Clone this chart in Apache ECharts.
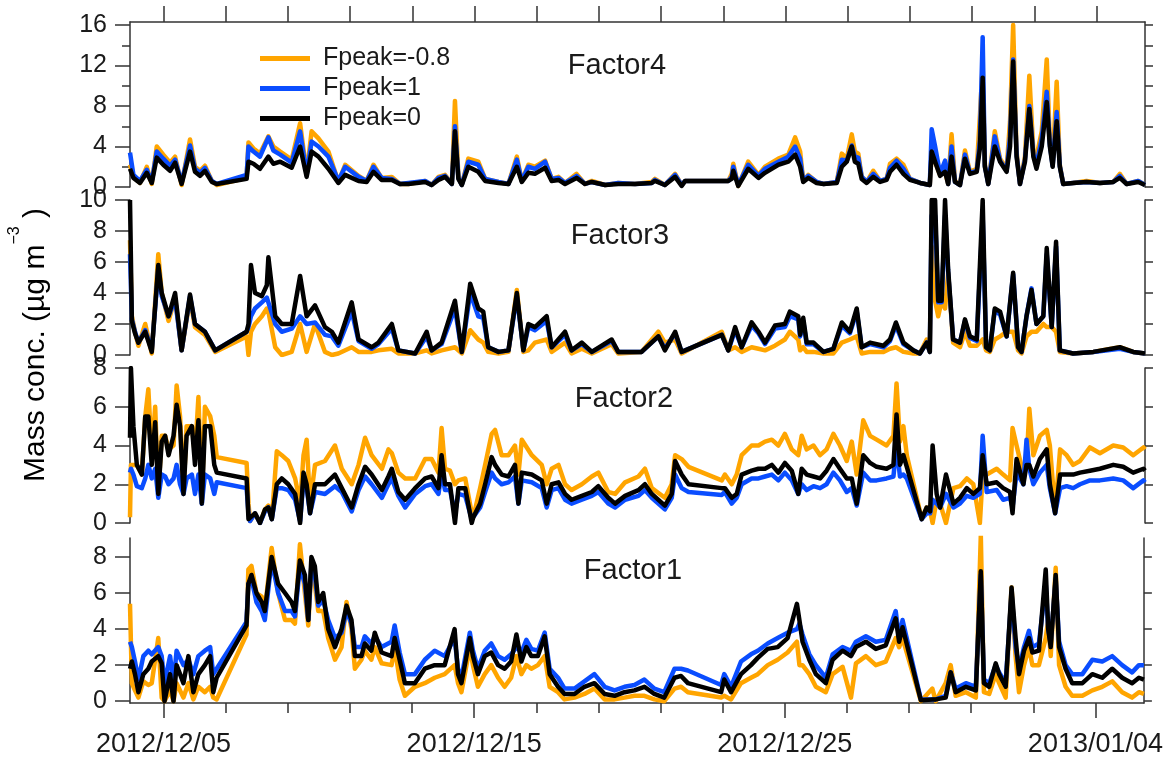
<!DOCTYPE html>
<html>
<head>
<meta charset="utf-8">
<title>Factor time series</title>
<script src="https://cdn.jsdelivr.net/npm/echarts@6/dist/echarts.min.js"></script>
<style>
  html, body { margin: 0; padding: 0; background: #fff; }
  #chart { width: 1166px; height: 763px; }
</style>
</head>
<body>
<div id="chart"></div>
<script>
// time is in days since 2012/12/01 00:00
const dayTicks = [4, 6, 8, 10, 12, 14, 16, 18, 20, 22, 24, 26, 28, 30, 32, 34];
const dateTicks = [4, 14, 24, 34];
const dateLabels = ['2012/12/05', '2012/12/15', '2012/12/25', '2013/01/04'];
const seriesNames = ['Fpeak=-0.8', 'Fpeak=1', 'Fpeak=0'];

// Factor4
const f4Time = [
  2.92, 3.03, 3.24, 3.46, 3.62, 3.78, 3.99, 4.21, 4.37, 4.58,
  4.85, 5.01, 5.17, 5.33, 5.55, 5.71, 6.67, 6.73, 6.89, 7.10,
  7.37, 7.53, 7.75, 8.12, 8.39, 8.60, 8.76, 8.98, 9.30, 9.62,
  9.84, 10.27, 10.53, 10.75, 11.01, 11.34, 11.60, 11.87, 12.41, 12.62,
  12.84, 13.05, 13.27, 13.37, 13.48, 13.59, 13.80, 14.12, 14.34, 14.77,
  15.09, 15.36, 15.52, 15.73, 15.94, 16.27, 16.48, 16.70, 16.91, 17.28,
  17.55, 17.77, 18.20, 18.62, 19.16, 19.70, 19.80, 20.12, 20.45, 20.66,
  20.77, 22.16, 22.27, 22.32, 22.48, 22.80, 23.13, 23.34, 23.77, 24.09,
  24.31, 24.47, 24.57, 24.73, 25.00, 25.22, 25.65, 25.81, 25.97, 26.13,
  26.23, 26.34, 26.45, 26.61, 26.82, 27.04, 27.25, 27.36, 27.57, 27.79,
  28.00, 28.33, 28.64, 28.70, 28.81, 28.97, 29.13, 29.23, 29.34, 29.45,
  29.61, 29.77, 29.93, 30.15, 30.25, 30.34, 30.41, 30.52, 30.73, 30.90,
  31.11, 31.22, 31.32, 31.43, 31.54, 31.70, 31.84, 31.97, 32.07, 32.24,
  32.40, 32.50, 32.59, 32.72, 32.82, 32.93, 33.25, 33.68, 34.11, 34.54,
  34.75, 34.97, 35.34, 35.56
];
const f4Orange = [
  2.2, 1.0, 0.4, 2.0, 0.3, 4.0, 3.2, 2.4, 3.0, 0.2,
  4.7, 2.0, 1.6, 2.1, 0.6, 0.2, 0.9, 4.4, 3.8, 3.3,
  5.0, 4.0, 3.5, 2.7, 6.3, 1.3, 5.5, 4.8, 3.5, 0.5,
  2.2, 1.1, 0.6, 2.2, 0.9, 1.0, 0.3, 0.3, 0.6, 0.2,
  1.0, 1.2, 0.3, 8.5, 1.0, 0.2, 2.8, 2.5, 0.8, 0.5,
  0.3, 3.0, 0.6, 2.2, 2.0, 2.6, 0.8, 1.0, 0.4, 1.3,
  0.3, 0.6, 0.2, 0.4, 0.3, 0.5, 0.8, 0.2, 1.3, 0.2,
  0.6, 0.6, 1.3, 2.3, 0.1, 2.5, 1.2, 2.0, 2.8, 3.2,
  4.9, 3.5, 0.6, 1.2, 0.5, 0.3, 0.5, 3.3, 2.8, 5.2,
  3.5, 3.3, 1.0, 0.5, 1.6, 0.6, 0.8, 2.3, 2.8, 2.2,
  0.8, 0.4, 0.2, 3.5, 2.5, 1.2, 1.5, 0.3, 5.2, 0.6,
  0.2, 3.6, 1.5, 1.8, 7.0, 12.0, 2.2, 0.3, 5.5, 2.8,
  1.8, 6.5, 16.0, 3.5, 0.3, 3.0, 11.0, 3.5, 3.0, 5.5,
  12.6, 4.5, 2.3, 10.4, 2.2, 0.3, 0.4, 0.6, 0.4, 0.5,
  1.3, 0.3, 0.6, 0.2
];
const f4Blue = [
  3.4, 1.2, 0.6, 1.7, 0.5, 3.5, 2.8, 2.1, 2.7, 0.4,
  4.1, 1.8, 1.4, 1.9, 0.6, 0.3, 1.2, 4.0, 3.5, 3.0,
  4.9, 3.6, 3.2, 2.4, 5.5, 1.2, 4.5, 4.0, 3.0, 0.6,
  2.0, 1.0, 0.6, 2.0, 0.9, 0.8, 0.3, 0.4, 0.6, 0.2,
  0.9, 1.1, 0.3, 6.0, 0.9, 0.2, 2.5, 2.2, 0.8, 0.5,
  0.3, 2.7, 0.6, 2.0, 1.8, 2.5, 0.8, 0.9, 0.4, 1.1,
  0.3, 0.5, 0.2, 0.4, 0.3, 0.4, 0.7, 0.2, 1.2, 0.2,
  0.6, 0.6, 1.0, 2.0, 0.2, 2.2, 1.1, 1.8, 2.5, 3.0,
  4.0, 2.8, 0.6, 1.1, 0.5, 0.3, 0.5, 2.7, 2.6, 4.1,
  3.0, 2.9, 1.0, 0.5, 1.3, 0.6, 0.8, 1.9, 2.6, 1.8,
  0.8, 0.4, 0.2, 5.7, 4.0, 1.3, 2.6, 0.3, 4.0, 0.5,
  0.2, 3.2, 1.4, 1.6, 4.5, 14.8, 2.1, 0.3, 5.0, 2.6,
  1.6, 5.0, 12.6, 3.2, 0.3, 2.7, 8.0, 3.2, 2.2, 4.8,
  9.4, 4.2, 2.1, 7.4, 2.1, 0.3, 0.4, 0.5, 0.4, 0.5,
  1.1, 0.3, 0.6, 0.2
];
const f4Black = [
  1.8, 0.9, 0.4, 1.4, 0.4, 2.9, 2.2, 1.6, 2.4, 0.3,
  3.5, 1.5, 1.1, 1.6, 0.5, 0.3, 0.8, 2.5, 2.3, 1.8,
  3.0, 2.3, 2.5, 1.9, 4.0, 1.0, 3.5, 3.0, 1.8, 0.4,
  1.2, 0.6, 0.5, 1.5, 0.7, 0.7, 0.3, 0.3, 0.5, 0.2,
  0.7, 1.0, 0.3, 5.5, 0.8, 0.2, 2.0, 1.5, 0.6, 0.4,
  0.3, 2.0, 0.5, 1.4, 1.3, 1.9, 0.6, 0.7, 0.3, 0.9,
  0.3, 0.5, 0.2, 0.3, 0.3, 0.4, 0.6, 0.2, 1.0, 0.1,
  0.6, 0.6, 0.8, 1.6, 0.1, 1.8, 0.9, 1.4, 2.2, 2.5,
  3.2, 2.0, 0.5, 0.9, 0.4, 0.3, 0.4, 2.0, 2.5, 4.0,
  2.5, 2.3, 0.8, 0.4, 1.0, 0.5, 0.7, 1.5, 2.2, 1.3,
  0.7, 0.4, 0.2, 3.5, 2.5, 1.1, 1.5, 0.3, 3.0, 0.5,
  0.2, 2.8, 1.3, 1.5, 3.8, 10.8, 2.0, 0.3, 4.0, 2.5,
  1.5, 4.0, 12.4, 3.0, 0.3, 2.5, 7.7, 3.0, 1.8, 4.0,
  8.4, 4.0, 2.0, 6.5, 2.0, 0.3, 0.4, 0.5, 0.4, 0.5,
  0.9, 0.3, 0.5, 0.2
];

// Factor3
const f3Time = [
  2.92, 2.98, 3.08, 3.19, 3.41, 3.62, 3.83, 3.94, 4.16, 4.37,
  4.58, 4.85, 5.01, 5.33, 5.66, 6.67, 6.73, 6.81, 6.94, 7.16,
  7.32, 7.37, 7.59, 7.80, 8.12, 8.39, 8.60, 8.87, 9.19, 9.41,
  9.62, 10.05, 10.27, 10.69, 10.91, 11.34, 11.55, 12.09, 12.46, 12.62,
  12.94, 13.37, 13.59, 13.86, 14.12, 14.28, 14.44, 14.77, 15.09, 15.36,
  15.57, 15.73, 15.94, 16.32, 16.48, 16.91, 17.12, 17.45, 17.77, 18.41,
  18.62, 19.37, 19.91, 20.12, 20.45, 20.66, 21.95, 22.16, 22.38, 22.59,
  22.91, 23.13, 23.34, 23.66, 23.98, 24.14, 24.41, 24.47, 24.57, 24.68,
  24.90, 25.22, 25.54, 25.81, 26.07, 26.29, 26.45, 26.72, 27.15, 27.36,
  27.55, 27.79, 28.11, 28.32, 28.54, 28.64, 28.70, 28.81, 28.91, 29.02,
  29.13, 29.23, 29.39, 29.61, 29.77, 29.93, 30.15, 30.34, 30.45, 30.57,
  30.73, 30.90, 31.11, 31.32, 31.48, 31.59, 31.75, 31.91, 32.07, 32.29,
  32.40, 32.56, 32.70, 32.82, 33.25, 33.90, 34.75, 35.18, 35.56
];
const f3Orange = [
  7.4, 2.5, 1.5, 0.6, 2.0, 0.1, 6.5, 4.0, 2.2, 3.7,
  0.3, 3.6, 1.8, 1.3, 0.2, 1.2, 0.0, 1.5, 2.0, 2.5,
  3.0, 2.8, 0.5, 0.0, 0.2, 2.0, 0.2, 2.0, 0.2, 0.0,
  0.1, 0.5, 0.2, 0.2, 0.3, 0.4, 0.1, 0.1, 0.3, 0.1,
  0.3, 0.5, 0.1, 1.6, 1.0, 0.8, 0.2, 0.1, 0.2, 4.2,
  0.2, 0.3, 0.8, 1.0, 0.2, 0.8, 0.1, 0.4, 0.1, 0.7,
  0.1, 0.2, 1.5, 0.8, 1.0, 0.1, 1.5, 0.3, 0.5, 0.2,
  0.5, 0.4, 0.3, 0.6, 1.0, 1.5, 1.0, 0.3, 0.5, 0.2,
  0.2, 0.1, 0.1, 0.8, 1.0, 1.2, 0.1, 0.2, 0.2, 0.4,
  0.5, 0.2, 0.1, 0.1, 1.0, 0.2, 7.0, 3.5, 2.5, 3.5,
  3.0, 5.3, 0.8, 0.5, 1.5, 0.6, 0.6, 1.0, 0.3, 0.2,
  1.0, 1.2, 1.5, 1.5, 0.3, 0.1, 1.2, 1.5, 1.5, 2.0,
  1.8, 1.8, 1.5, 0.2, 0.1, 0.2, 0.5, 0.2, 0.1
];
const f3Blue = [
  6.5, 2.3, 1.5, 0.8, 1.6, 0.3, 5.6, 3.8, 2.5, 3.6,
  0.3, 3.8, 2.0, 1.5, 0.3, 1.5, 1.8, 2.5, 3.0, 3.4,
  3.7, 3.8, 2.0, 1.5, 1.7, 2.5, 2.0, 2.1, 1.3, 1.2,
  0.6, 2.8, 0.9, 0.4, 0.7, 1.7, 0.3, 0.1, 1.2, 0.3,
  0.7, 3.0, 0.2, 4.0, 2.5, 2.4, 0.5, 0.2, 0.3, 3.8,
  0.3, 1.8, 1.6, 2.2, 0.5, 1.3, 0.3, 0.7, 0.2, 0.9,
  0.2, 0.2, 1.2, 0.4, 1.4, 0.2, 1.3, 0.3, 1.6, 0.5,
  1.9, 1.4, 0.7, 1.7, 1.8, 2.5, 2.3, 1.2, 2.2, 0.7,
  0.7, 0.2, 0.4, 1.9, 1.4, 2.8, 0.5, 0.7, 0.5, 0.9,
  1.9, 0.7, 0.3, 0.1, 0.8, 0.2, 9.0, 9.0, 3.4, 3.4,
  9.0, 5.3, 1.0, 0.8, 2.2, 1.1, 0.9, 9.0, 0.5, 0.3,
  2.9, 2.6, 1.2, 5.2, 0.5, 0.2, 2.5, 4.3, 2.0, 2.5,
  6.5, 1.8, 7.0, 0.3, 0.1, 0.2, 0.4, 0.2, 0.1
];
const f3Black = [
  10, 2.2, 1.4, 0.8, 1.5, 0.2, 5.8, 4.0, 2.5, 4.0,
  0.3, 3.9, 2.0, 1.5, 0.3, 1.5, 2.0, 5.8, 4.0, 3.8,
  4.5, 6.3, 2.5, 2.0, 2.0, 5.1, 2.5, 3.2, 1.8, 1.5,
  0.8, 3.4, 1.0, 0.5, 0.8, 2.0, 0.3, 0.1, 1.5, 0.3,
  0.8, 3.5, 0.2, 4.6, 3.0, 2.8, 0.5, 0.2, 0.3, 4.0,
  0.3, 2.0, 1.8, 2.5, 0.5, 1.5, 0.3, 0.8, 0.2, 1.0,
  0.2, 0.2, 1.2, 0.3, 1.5, 0.2, 1.3, 0.3, 1.8, 0.5,
  2.1, 1.5, 0.8, 1.9, 2.0, 2.8, 2.5, 1.3, 2.4, 0.8,
  0.8, 0.2, 0.4, 2.1, 1.5, 3.0, 0.5, 0.8, 0.6, 1.0,
  2.1, 0.8, 0.3, 0.1, 0.8, 0.2, 10, 10, 3.5, 3.5,
  10, 5.5, 1.0, 0.8, 2.3, 1.2, 1.0, 10, 0.5, 0.3,
  3.0, 2.8, 1.2, 5.3, 0.5, 0.2, 2.5, 4.2, 2.0, 2.5,
  6.9, 1.8, 7.3, 0.3, 0.1, 0.2, 0.5, 0.2, 0.1
];

// Factor2
const f2Time = [
  2.92, 2.95, 3.03, 3.14, 3.30, 3.41, 3.51, 3.62, 3.73, 3.83,
  3.94, 4.05, 4.16, 4.32, 4.42, 4.53, 4.64, 4.74, 4.91, 5.01,
  5.12, 5.23, 5.33, 5.50, 5.63, 5.71, 6.67, 6.73, 6.78, 6.94,
  7.10, 7.26, 7.37, 7.48, 7.64, 7.80, 8.01, 8.23, 8.39, 8.50,
  8.60, 8.71, 8.87, 9.19, 9.51, 9.73, 10.05, 10.27, 10.48, 10.69,
  11.02, 11.23, 11.34, 11.55, 11.77, 12.09, 12.41, 12.62, 12.84, 12.94,
  13.05, 13.21, 13.37, 13.48, 13.70, 13.91, 13.96, 14.18, 14.34, 14.55,
  14.66, 14.87, 15.09, 15.30, 15.41, 15.52, 15.84, 16.16, 16.32, 16.48,
  16.70, 16.91, 17.12, 17.45, 17.77, 17.98, 18.30, 18.52, 18.84, 19.27,
  19.48, 19.70, 20.12, 20.34, 20.45, 20.66, 20.88, 21.95, 22.05, 22.27,
  22.43, 22.59, 22.91, 23.13, 23.34, 23.56, 23.77, 23.98, 24.20, 24.41,
  24.52, 24.68, 24.90, 25.11, 25.32, 25.54, 25.75, 25.97, 26.13, 26.29,
  26.50, 26.72, 26.93, 27.25, 27.47, 27.57, 27.68, 27.79, 27.90, 28.38,
  28.54, 28.65, 28.73, 28.86, 28.97, 29.16, 29.40, 29.61, 29.83, 30.04,
  30.25, 30.34, 30.47, 30.79, 31.00, 31.22, 31.30, 31.43, 31.65, 31.75,
  31.84, 31.97, 32.18, 32.40, 32.50, 32.67, 32.83, 33.04, 33.25, 33.47,
  33.79, 34.11, 34.54, 34.86, 35.18, 35.51, 35.56
];
const f2Orange = [
  0.3, 3.0, 3.0, 3.0, 2.5, 5.5, 6.9, 3.5, 6.0, 1.5,
  4.5, 4.5, 3.8, 4.0, 7.1, 5.5, 1.5, 5.0, 5.0, 3.5,
  6.5, 1.2, 6.0, 5.5, 4.5, 3.4, 3.1, 1.0, 0.1, 0.5,
  0.0, 0.7, 0.9, 0.2, 3.7, 3.5, 3.2, 2.3, 1.0, 3.5,
  4.3, 1.0, 3.0, 3.2, 4.0, 2.8, 2.0, 3.0, 4.4, 3.5,
  2.8, 3.8, 3.6, 2.6, 2.3, 2.3, 3.3, 3.3, 2.6, 4.9,
  2.8, 2.7, 2.0, 2.2, 2.3, 0.5, 0.3, 1.8, 3.0, 4.6,
  4.8, 3.5, 3.5, 4.0, 2.5, 4.3, 3.5, 3.0, 2.0, 2.8,
  3.0, 2.0, 1.7, 2.0, 2.4, 2.6, 1.6, 1.5, 2.1, 2.4,
  2.8, 1.8, 1.3, 2.0, 3.5, 3.3, 2.9, 2.2, 2.5, 2.0,
  2.5, 3.5, 4.0, 4.0, 4.2, 4.3, 4.0, 4.6, 3.8, 3.5,
  4.5, 3.8, 4.0, 3.5, 3.8, 4.6, 4.0, 3.2, 4.2, 2.5,
  5.3, 4.5, 4.3, 4.0, 4.5, 7.2, 4.2, 5.0, 3.5, 0.2,
  0.8, 0.6, 0.0, 1.2, 1.0, 0.0, 1.8, 1.9, 2.3, 2.0,
  0.0, 2.5, 2.5, 2.8, 2.5, 2.2, 4.9, 4.0, 2.5, 3.0,
  5.9, 3.5, 4.5, 4.8, 4.0, 0.6, 3.8, 3.5, 3.0, 3.2,
  3.9, 3.6, 4.0, 3.9, 3.5, 3.9, 3.8
];
const f2Blue = [
  2.6, 2.8, 2.5, 1.9, 1.8, 2.3, 3.0, 2.3, 2.8, 1.3,
  2.5, 2.4, 2.0, 2.3, 3.0, 2.0, 1.5, 2.3, 2.5, 1.5,
  2.5, 1.0, 2.5, 2.3, 1.5, 2.1, 1.8, 0.5, 0.1, 0.5,
  0.0, 0.6, 0.8, 0.2, 1.8, 1.8, 1.7, 1.2, 0.1, 2.2,
  1.8, 0.5, 1.6, 1.5, 1.9, 1.6, 0.6, 1.7, 2.4, 2.0,
  1.3, 2.0, 2.3, 1.4, 0.8, 1.5, 1.9, 2.0, 1.5, 2.6,
  1.7, 1.7, 0.5, 1.5, 1.4, 0.2, 0.2, 0.8, 1.6, 2.6,
  2.3, 2.0, 2.1, 2.4, 1.0, 2.2, 2.1, 1.8, 0.8, 1.7,
  1.8, 1.2, 1.0, 1.2, 1.4, 1.6, 1.0, 0.8, 1.2, 1.4,
  1.7, 1.3, 0.7, 1.3, 2.5, 1.8, 1.6, 1.45, 1.6, 1.0,
  1.3, 2.0, 2.3, 2.3, 2.4, 2.5, 2.2, 2.6, 2.2, 1.5,
  2.0, 1.7, 1.9, 1.8, 2.0, 2.6, 2.2, 1.6, 1.8, 0.9,
  2.6, 2.2, 2.2, 2.3, 2.4, 4.0, 2.4, 2.5, 2.3, 0.2,
  0.5, 0.5, 1.2, 1.0, 0.8, 1.5, 0.8, 1.0, 1.4, 1.3,
  1.5, 4.5, 1.6, 1.7, 1.2, 1.3, 0.8, 2.6, 2.0, 4.3,
  2.8, 2.0, 2.6, 3.0, 1.8, 0.5, 1.8, 1.9, 1.8, 2.0,
  2.2, 2.2, 2.3, 2.2, 1.8, 2.2, 2.1
];
const f2Black = [
  4.4, 8.0, 5.0, 3.0, 2.5, 5.5, 5.5, 3.0, 5.2, 1.5,
  4.2, 4.5, 3.5, 4.5, 6.1, 5.0, 1.5, 4.5, 5.0, 3.0,
  5.3, 1.0, 5.0, 5.0, 3.0, 2.6, 2.3, 0.2, 0.1, 0.5,
  0.0, 0.7, 0.8, 0.2, 2.0, 2.3, 2.0, 1.5, 0.0, 2.6,
  2.0, 0.5, 2.0, 2.0, 2.5, 1.8, 0.8, 2.0, 2.9, 2.5,
  1.7, 2.4, 2.8, 1.6, 1.2, 1.8, 2.3, 2.4, 1.8, 3.5,
  2.0, 2.0, 0.0, 1.8, 1.8, 0.0, 0.3, 1.0, 2.0, 3.4,
  3.0, 2.5, 2.4, 3.0, 1.0, 2.6, 2.5, 2.2, 1.0, 2.0,
  2.1, 1.5, 1.2, 1.4, 1.6, 1.9, 1.3, 1.0, 1.4, 1.7,
  2.0, 1.5, 0.9, 1.5, 3.2, 2.5, 2.0, 1.8, 1.8, 1.3,
  1.5, 2.5, 2.7, 2.8, 2.8, 3.0, 2.6, 3.1, 2.7, 1.5,
  2.8, 2.5, 2.4, 2.3, 2.7, 3.3, 2.8, 2.3, 2.3, 1.0,
  3.5, 3.1, 2.9, 2.8, 3.0, 5.6, 3.0, 3.5, 2.9, 0.2,
  0.8, 0.6, 4.0, 1.5, 0.8, 2.5, 1.0, 1.3, 1.8, 1.5,
  1.8, 3.5, 2.0, 2.1, 1.8, 1.6, 0.5, 3.3, 2.0, 3.0,
  3.0, 2.4, 3.3, 3.8, 2.0, 0.5, 2.5, 2.5, 2.5, 2.6,
  2.7, 2.8, 3.0, 2.9, 2.6, 2.8, 2.7
];

// Factor1
const f1Time = [
  2.92, 2.98, 3.08, 3.19, 3.35, 3.51, 3.62, 3.83, 3.94, 4.03,
  4.21, 4.32, 4.42, 4.64, 4.80, 4.96, 5.12, 5.33, 5.50, 5.60,
  5.71, 6.67, 6.73, 6.83, 6.99, 7.16, 7.26, 7.48, 7.69, 7.91,
  8.12, 8.23, 8.39, 8.55, 8.66, 8.76, 8.87, 8.98, 9.14, 9.30,
  9.52, 9.73, 9.89, 10.05, 10.16, 10.37, 10.48, 10.69, 10.80, 11.02,
  11.34, 11.44, 11.60, 11.77, 12.09, 12.41, 12.73, 13.05, 13.37, 13.48,
  13.59, 13.86, 13.96, 14.12, 14.34, 14.55, 14.77, 14.98, 15.19, 15.36,
  15.52, 15.68, 15.84, 16.05, 16.27, 16.43, 16.70, 16.91, 17.23, 17.55,
  17.87, 18.20, 18.52, 18.84, 19.16, 19.48, 19.80, 20.12, 20.45, 20.66,
  20.88, 21.95, 22.05, 22.27, 22.59, 22.91, 23.13, 23.45, 23.77, 24.09,
  24.39, 24.47, 24.57, 24.79, 25.00, 25.32, 25.54, 25.86, 26.13, 26.29,
  26.61, 26.93, 27.25, 27.57, 27.68, 27.79, 28.38, 28.75, 28.86, 29.18,
  29.34, 29.50, 29.83, 30.15, 30.31, 30.41, 30.58, 30.79, 30.90, 31.11,
  31.30, 31.43, 31.54, 31.70, 31.86, 31.97, 32.18, 32.40, 32.48, 32.56,
  32.72, 32.83, 33.04, 33.25, 33.58, 33.90, 34.22, 34.54, 34.86, 35.18,
  35.40, 35.56
];
const f1Orange = [
  5.4, 1.0, 0.6, 0.2, 1.1, 0.9, 1.0, 3.5, 0.2, 0.0,
  0.6, 0.0, 1.0, 0.2, 1.0, 0.1, 0.8, 0.5, 0.8, 0.2,
  0.1, 3.7, 7.3, 7.5, 6.0, 5.8, 5.0, 8.5, 6.0, 4.5,
  4.5, 4.3, 8.7, 6.0, 4.2, 7.5, 6.5, 5.0, 5.0, 3.5,
  2.3, 3.0, 5.5, 4.0, 1.8, 2.3, 2.8, 2.3, 3.0, 2.1,
  2.0, 3.0, 1.2, 0.3, 0.8, 1.0, 1.3, 1.5, 2.0, 1.0,
  0.5, 3.0, 2.0, 0.8, 1.5, 2.0, 1.3, 0.8, 1.3, 2.5,
  1.5, 2.0, 1.8, 2.0, 2.5, 0.8, 0.5, 0.1, 0.2, 0.4,
  0.7, 0.1, 0.1, 0.2, 0.3, 0.3, 0.1, 0.0, 0.7, 0.8,
  0.5, 0.2, 0.3, 0.1, 1.0, 1.3, 1.5, 2.0, 2.3, 2.7,
  3.3, 2.0, 2.0, 1.5, 0.8, 0.5, 1.5, 1.9, 0.2, 2.1,
  2.5, 2.0, 2.2, 3.5, 3.0, 3.5, 0.0, 0.7, 0.0, 1.0,
  2.0, 0.3, 0.5, 0.2, 9.2, 0.5, 0.4, 1.5, 1.0, 0.2,
  6.3, 2.5, 0.5, 2.0, 3.0, 2.0, 2.0, 3.5, 4.5, 2.5,
  7.4, 2.0, 0.8, 0.3, 0.3, 0.6, 0.8, 1.1, 0.5, 0.2,
  0.5, 0.4
];
const f1Blue = [
  3.3, 3.0, 2.2, 1.2, 2.5, 2.8, 2.6, 3.0, 2.5, 1.0,
  2.5, 1.0, 2.8, 2.0, 2.3, 1.5, 2.5, 2.8, 3.0, 1.5,
  1.8, 4.4, 6.5, 6.8, 5.5, 5.0, 4.5, 7.8, 6.0, 5.0,
  5.0, 4.7, 7.5, 6.5, 4.5, 7.6, 7.0, 5.3, 5.6, 4.5,
  3.5, 3.8, 5.0, 4.3, 3.0, 3.0, 3.6, 3.2, 3.6, 3.0,
  3.3, 4.2, 2.7, 1.5, 1.5, 2.3, 2.8, 2.5, 3.5, 1.8,
  1.3, 3.8, 2.8, 1.8, 2.8, 3.2, 2.5, 2.3, 2.6, 3.0,
  2.7, 3.4, 2.9, 2.8, 3.8, 1.8, 1.3, 0.7, 0.7, 1.1,
  1.5, 0.8, 0.6, 0.8, 0.9, 1.2, 0.7, 0.5, 1.8, 1.8,
  1.7, 0.9, 1.5, 0.8, 2.2, 2.6, 2.8, 3.2, 3.5, 3.8,
  4.0, 4.3, 3.7, 2.6, 2.0, 1.3, 2.6, 3.0, 2.8, 3.3,
  3.6, 3.3, 3.4, 5.0, 3.5, 4.5, 0.1, 0.1, 0.1, 0.3,
  1.6, 0.7, 1.0, 0.8, 7.0, 1.2, 1.0, 2.0, 1.6, 1.0,
  6.0, 3.0, 1.8, 3.0, 3.9, 3.0, 3.2, 6.5, 4.0, 3.2,
  6.8, 3.3, 2.0, 1.5, 1.5, 2.3, 2.2, 2.5, 2.0, 1.6,
  2.0, 2.0
];
const f1Black = [
  1.8, 2.2, 1.5, 0.5, 1.5, 1.8, 2.2, 2.5, 2.1, 0.0,
  1.5, 0.0, 2.0, 1.0, 2.5, 0.5, 1.5, 2.0, 2.5, 0.5,
  1.3, 4.2, 6.5, 7.0, 6.0, 5.5, 5.0, 8.0, 6.5, 6.0,
  5.5, 5.0, 7.8, 7.0, 4.5, 8.0, 7.5, 5.5, 6.0, 4.0,
  3.0, 4.0, 5.3, 4.5, 2.5, 2.5, 3.2, 2.8, 3.8, 2.7,
  2.5, 3.5, 2.3, 1.0, 1.0, 1.8, 2.0, 2.0, 4.0, 1.5,
  1.0, 3.5, 2.5, 1.5, 2.5, 2.7, 2.0, 1.8, 2.2, 3.7,
  2.2, 3.0, 2.5, 2.5, 3.6, 1.5, 0.8, 0.4, 0.4, 0.8,
  1.0, 0.4, 0.3, 0.5, 0.6, 0.8, 0.4, 0.2, 1.3, 1.4,
  1.0, 0.5, 1.2, 0.5, 1.5, 2.0, 2.4, 2.9, 3.0, 3.5,
  5.4, 4.5, 3.3, 2.3, 1.5, 1.0, 2.3, 2.8, 2.5, 3.0,
  3.3, 2.9, 3.1, 4.6, 3.3, 4.1, 0.05, 0.1, 0.1, 0.2,
  1.6, 0.5, 0.8, 0.6, 7.2, 1.0, 0.8, 2.1, 1.5, 0.8,
  6.3, 3.5, 1.5, 2.8, 3.5, 2.7, 2.8, 7.3, 4.0, 3.0,
  7.0, 3.0, 1.8, 1.0, 1.0, 1.5, 1.3, 1.8, 1.3, 1.0,
  1.3, 1.2
];

// y tick values of each panel
const f4Ticks = [0, 4, 8, 12, 16];
const f4Minor = [2, 6, 10, 14];
const f4Right = [0, 2, 4, 6, 8, 10, 12, 14, 16];
const f3Ticks = [0, 2, 4, 6, 8, 10];
const f2Ticks = [0, 2, 4, 6, 8];
const f1Ticks = [0, 2, 4, 6, 8];

const panels = [
  { title: 'Factor4', time: f4Time, vals: [f4Orange, f4Blue, f4Black], top: 22, height: 165, min: 0, max: 16.3,
    ticks: f4Ticks, minor: f4Minor, right: f4Right, tx: 617, ty: 66 },
  { title: 'Factor3', time: f3Time, vals: [f3Orange, f3Blue, f3Black], top: 200, height: 155, min: 0, max: 10,
    ticks: f3Ticks, minor: null, right: f3Ticks, tx: 620, ty: 236 },
  { title: 'Factor2', time: f2Time, vals: [f2Orange, f2Blue, f2Black], top: 368, height: 155, min: 0, max: 8,
    ticks: f2Ticks, minor: null, right: f2Ticks, tx: 624, ty: 399 },
  { title: 'Factor1', time: f1Time, vals: [f1Orange, f1Blue, f1Black], top: 538, height: 165, min: -0.1, max: 9.05,
    ticks: f1Ticks, minor: null, right: f1Ticks, tx: 633, ty: 571 }
];

const xMin = 2.92, xMax = 35.56;
const font = '"Liberation Sans", Arial, sans-serif';
const colors = ['#ffa500', '#0a4dff', '#000000'];
const axisColor = '#333';
const txtColor = '#1a1a1a';

const grid = [], xAxis = [], yAxis = [], series = [], graphic = [];

panels.forEach((p, i) => {
  grid.push({ left: 130, right: 21, top: p.top, height: p.height });

  const xa = { type: 'value', gridIndex: i, min: xMin, max: xMax, splitLine: { show: false }, axisLabel: { show: false } };
  if (i === 0) {
    Object.assign(xa, {
      position: 'top',
      axisLine: { show: true, onZero: false, lineStyle: { color: axisColor, width: 1.5 } },
      axisTick: { show: true, length: 16, customValues: dayTicks, lineStyle: { color: axisColor, width: 1.5 } }
    });
  } else if (i === 3) {
    Object.assign(xa, {
      position: 'bottom',
      axisLine: { show: true, onZero: false, lineStyle: { color: axisColor, width: 1.5 } },
      axisTick: { show: true, length: 10, customValues: dayTicks, lineStyle: { color: axisColor, width: 1.5 } }
    });
  } else {
    xa.show = false;
  }
  xAxis.push(xa);
  const xi = xAxis.length - 1;

  yAxis.push({
    type: 'value', gridIndex: i, min: p.min, max: p.max, position: 'left',
    axisLine: { show: true, onZero: false, lineStyle: { color: axisColor, width: 1.5 } },
    axisTick: { show: true, length: 15, customValues: p.ticks, lineStyle: { color: axisColor, width: 1.5 } },
    axisLabel: { customValues: p.ticks, margin: 23, fontSize: 25, fontFamily: font, color: txtColor },
    splitLine: { show: false }
  });
  const yi = yAxis.length - 1;

  yAxis.push({
    type: 'value', gridIndex: i, min: p.min, max: p.max, position: 'right',
    axisLine: { show: true, onZero: false, lineStyle: { color: axisColor, width: 1.5 } },
    axisTick: { show: true, length: 8, customValues: p.right, lineStyle: { color: axisColor, width: 1.5 } },
    axisLabel: { show: false },
    splitLine: { show: false }
  });

  if (p.minor) {
    yAxis.push({
      type: 'value', gridIndex: i, min: p.min, max: p.max, position: 'left',
      axisLine: { show: false },
      axisTick: { show: true, length: 8, customValues: p.minor, lineStyle: { color: axisColor, width: 1.5 } },
      axisLabel: { show: false },
      splitLine: { show: false }
    });
  }

  p.vals.forEach((v, k) => {
    series.push({
      name: seriesNames[k], type: 'line', xAxisIndex: xi, yAxisIndex: yi,
      data: p.time.map((t, j) => [t, v[j]]),
      symbol: 'none', z: 2 + k,
      lineStyle: { width: 4.5, color: colors[k], join: 'round' },
      itemStyle: { color: colors[k] }
    });
  });

  graphic.push({
    type: 'text', x: p.tx, y: p.ty, silent: true,
    style: { text: p.title, font: '29px ' + font, fill: txtColor,
      align: 'center', verticalAlign: 'middle', textAlign: 'center', textVerticalAlign: 'middle' }
  });
});

// major ticks and date labels under the bottom panel
xAxis.push({
  type: 'value', gridIndex: 3, min: xMin, max: xMax, position: 'bottom',
  axisLine: { show: false, onZero: false },
  axisTick: { show: true, length: 15, customValues: dateTicks, lineStyle: { color: axisColor, width: 1.5 } },
  axisLabel: {
    customValues: dateTicks, margin: 28, fontSize: 27, fontFamily: font, color: txtColor,
    formatter: v => dateLabels[dateTicks.indexOf(v)]
  },
  splitLine: { show: false }
});

graphic.push({
  type: 'text', x: 29, y: 345, rotation: Math.PI / 2, silent: true,
  style: {
    text: '{a|Mass conc. (µg m}{s|−3}{a| )}',
    rich: {
      a: { fontSize: 30, fontFamily: font, color: txtColor, verticalAlign: 'bottom' },
      s: { fontSize: 16, fontFamily: font, color: txtColor, verticalAlign: 'bottom', padding: [0, 0, 28, 0] }
    },
    align: 'center', verticalAlign: 'middle', textAlign: 'center', textVerticalAlign: 'middle'
  }
});

const chart = echarts.init(document.getElementById('chart'), null, { renderer: 'canvas' });
chart.setOption({
  backgroundColor: '#fff',
  animation: false,
  legend: {
    data: seriesNames, orient: 'vertical', left: 255, top: 41,
    itemWidth: 50, itemHeight: 5, itemGap: 5, icon: 'rect',
    textStyle: { fontSize: 25, fontFamily: font, color: txtColor, padding: [0, 0, 0, 8] }
  },
  grid: grid,
  xAxis: xAxis,
  yAxis: yAxis,
  series: series,
  graphic: graphic
});
</script>
</body>
</html>
